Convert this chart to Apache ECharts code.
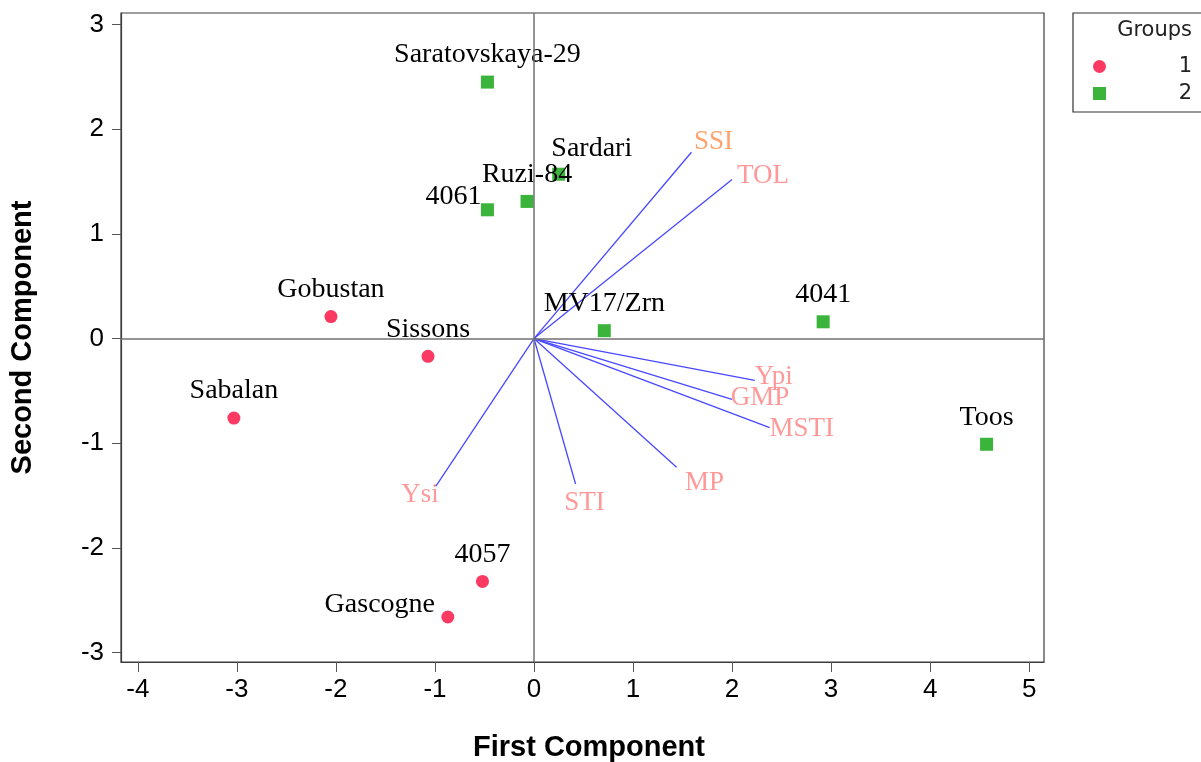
<!DOCTYPE html>
<html><head><meta charset="utf-8">
<script src="https://cdn.jsdelivr.net/npm/echarts@6/dist/echarts.min.js"></script>
<style>html,body{margin:0;padding:0;background:#fff}#c{width:1201px;height:762px}</style>
</head><body><div id="c"></div>
<script>
// ---- data ----
const group1Names = ['Gobustan', 'Sissons', 'Sabalan', '4057', 'Gascogne'];
const group1X = [-2.05, -1.07, -3.03, -0.52, -0.87];
const group1Y = [0.21, -0.17, -0.76, -2.32, -2.66];
const group2Names = ['Saratovskaya-29', 'Sardari', 'Ruzi-84', '4061', 'MV17/Zrn', '4041', 'Toos'];
const group2X = [-0.47, 0.25, -0.07, -0.47, 0.71, 2.92, 4.57];
const group2Y = [2.45, 1.57, 1.31, 1.23, 0.075, 0.16, -1.01];
const vectorNames = ['SSI', 'TOL', 'Ypi', 'GMP', 'MSTI', 'MP', 'STI', 'Ysi'];
const vectorX = [1.59, 2.00, 2.23, 2.00, 2.38, 1.44, 0.42, -0.99];
const vectorY = [1.78, 1.52, -0.40, -0.58, -0.85, -1.23, -1.39, -1.41];
const xTicks = [-4, -3, -2, -1, 0, 1, 2, 3, 4, 5];
const yTicks = [-3, -2, -1, 0, 1, 2, 3];
const groupNames = ['1', '2'];
const legendTitle = 'Groups';
const xTitle = 'First Component';
const yTitle = 'Second Component';

// ---- styles / label placement ----
const pointLabelOffset = { Sardari: [33, -26], '4061': [-34, -13], Gascogne: [-68, -12] };
const defaultPointOffset = [0, -27];
const vectorLabelOffset = { SSI: [22, -10], TOL: [31, -4], Ypi: [19, -4], GMP: [28, -1], MSTI: [32, 1], MP: [28, 16], STI: [9, 19], Ysi: [-16, 9] };
const vectorLabelColor = { SSI: '#FF8C4A' };
const serif = '"Liberation Serif", "Times New Roman", serif';
const sans = '"DejaVu Sans", Verdana, sans-serif';
const tickFont = '"Liberation Sans", Arial, sans-serif';

function pointData(names, xs, ys) {
  return names.map((n, i) => ({
    name: n, value: [xs[i], ys[i]],
    label: { offset: pointLabelOffset[n] || defaultPointOffset }
  }));
}

const pointLabel = {
  show: true, position: 'inside', formatter: '{b}',
  color: '#000', fontFamily: serif, fontSize: 28
};

const chart = echarts.init(document.getElementById('c'), null, { renderer: 'canvas' });
chart.setOption({
  animation: false,
  backgroundColor: '#fff',
  grid: { left: 121, right: 157, top: 13, bottom: 100, show: true, borderColor: '#3c3c3c', borderWidth: 1.2, containLabel: false, outerBoundsMode: 'none' },
  xAxis: {
    type: 'value', min: -4.17, max: 5.15,
    splitLine: { show: false },
    axisLine: { show: true, onZero: false, lineStyle: { color: '#3c3c3c', width: 1.2 } },
    axisTick: { show: true, length: 10, customValues: xTicks, lineStyle: { color: '#555' } },
    axisLabel: { customValues: xTicks, margin: 15, color: '#000', fontFamily: tickFont, fontSize: 26 },
    name: xTitle, nameLocation: 'middle', nameGap: 71,
    nameTextStyle: { fontFamily: '"Liberation Sans", Arial, sans-serif', fontWeight: 'bold', fontSize: 29, color: '#000', padding: [0, 0, 0, 13] }
  },
  yAxis: {
    type: 'value', min: -3.09, max: 3.11,
    splitLine: { show: false },
    axisLine: { show: true, onZero: false, lineStyle: { color: '#3c3c3c', width: 1.2 } },
    axisTick: { show: true, length: 9, customValues: yTicks, lineStyle: { color: '#555' } },
    axisLabel: { customValues: yTicks, margin: 17, color: '#000', fontFamily: tickFont, fontSize: 26 },
    name: yTitle, nameLocation: 'middle', nameGap: 71,
    nameTextStyle: { fontFamily: '"Liberation Sans", Arial, sans-serif', fontWeight: 'bold', fontSize: 29, color: '#000', padding: [0, 0, 13, 0] }
  },
  legend: {
    orient: 'vertical', left: 1088, top: 51, itemGap: 6,
    itemWidth: 13, itemHeight: 13,
    data: [{ name: groupNames[0], icon: 'circle' }, { name: groupNames[1], icon: 'rect' }],
    formatter: '{t|{name}}',
    textStyle: { rich: { t: { width: 81, align: 'right', fontSize: 21, fontFamily: sans, color: '#222', lineHeight: 24 } } }
  },
  graphic: [
    { type: 'rect', shape: { x: 1073, y: 13, width: 140, height: 99 }, style: { fill: 'none', stroke: '#333', lineWidth: 1.2 }, z: 0 },
    { type: 'text', x: 1192, y: 31, style: { text: legendTitle, align: 'right', verticalAlign: 'middle', fontSize: 21, fontFamily: sans, fill: '#222' } }
  ],
  series: [
    {
      type: 'lines', coordinateSystem: 'cartesian2d', z: 2, silent: true,
      lineStyle: { color: '#4848FF', width: 1.3, opacity: 1 },
      data: vectorNames.map((n, i) => ({ name: n, coords: [[0, 0], [vectorX[i], vectorY[i]]] }))
    },
    {
      type: 'scatter', name: 'vectors', symbolSize: 0, z: 1, silent: true,
      data: vectorNames.map((n, i) => ({
        name: n, value: [vectorX[i], vectorY[i]],
        label: { offset: vectorLabelOffset[n], color: vectorLabelColor[n] || '#FF7F7F' }
      })),
      label: { show: true, position: 'inside', formatter: '{b}', fontFamily: serif, fontSize: 27, color: '#FF7F7F' },
      markLine: {
        silent: true, symbol: 'none', label: { show: false }, animation: false,
        lineStyle: { color: '#707070', width: 1.5, type: 'solid' },
        data: [{ xAxis: 0 }, { yAxis: 0 }]
      }
    },
    {
      type: 'scatter', name: groupNames[0], symbol: 'circle', symbolSize: 13, z: 3,
      itemStyle: { color: '#FA3A62', opacity: 1 },
      label: pointLabel,
      data: pointData(group1Names, group1X, group1Y)
    },
    {
      type: 'scatter', name: groupNames[1], symbol: 'rect', symbolSize: 13, z: 3,
      itemStyle: { color: '#3AB43A', opacity: 1 },
      label: pointLabel,
      data: pointData(group2Names, group2X, group2Y)
    }
  ]
});
</script>
</body></html>
